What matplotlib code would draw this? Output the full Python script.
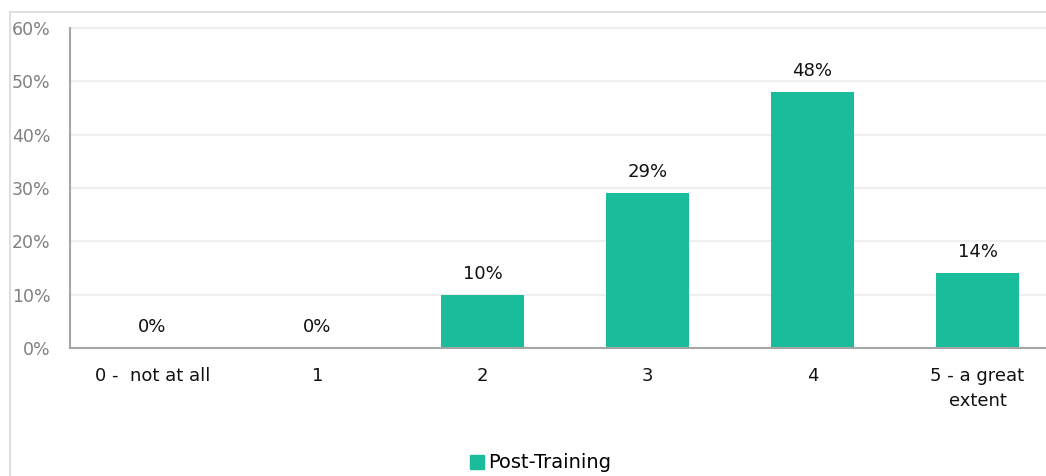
import matplotlib
matplotlib.use("Agg")
import matplotlib.pyplot as plt
from matplotlib.lines import Line2D

categories = ["0 -  not at all", "1", "2", "3", "4", "5 - a great\nextent"]
post_training = [0, 0, 10, 29, 48, 14]
y_ticks = [0, 10, 20, 30, 40, 50, 60]
series_name = "Post-Training"

bar_color = "#1ABC9C"
W, H = 1046, 476

plt.rcParams["font.family"] = ["DejaVu Sans"]

fig = plt.figure(figsize=(W / 100, H / 100), dpi=100)

# outer chart frame
fig.add_artist(Line2D([10 / W, 1.0], [1 - 12 / H, 1 - 12 / H], color="#d9d9d9", lw=1.2,
                      transform=fig.transFigure))
fig.add_artist(Line2D([10 / W, 10 / W], [0, 1 - 12 / H], color="#d9d9d9", lw=1.2,
                      transform=fig.transFigure))

left, right = 70 / W, 1060 / W
top, bottom = 1 - 28 / H, 1 - 348 / H
ax = fig.add_axes([left, bottom, right - left, top - bottom])

x = list(range(len(categories)))
bars = ax.bar(x, post_training, width=0.5, color=bar_color, label=series_name, zorder=3)

ax.set_xlim(-0.5, len(categories) - 0.5)
ax.set_ylim(0, 60)
ax.set_yticks(y_ticks)
ax.set_yticklabels([f"{v}%" for v in y_ticks], color="#808080", fontsize=12.5)
ax.set_xticks(x)
ax.set_xticklabels(categories, fontsize=13, color="#111111", linespacing=1.45)
ax.tick_params(axis="y", length=0, pad=14)
ax.tick_params(axis="x", length=0, pad=14)

ax.set_axisbelow(True)
for v in y_ticks[1:]:
    ax.axhline(v, color="#efefef", lw=1.5, zorder=0, clip_on=False)
for s in ["top", "right"]:
    ax.spines[s].set_visible(False)
for s in ["left", "bottom"]:
    ax.spines[s].set_color("#a6a6a6")
    ax.spines[s].set_linewidth(1.5)
    ax.spines[s].set_zorder(4)

for xi, v in zip(x, post_training):
    ax.annotate(f"{v}%", (xi, v), xytext=(0, 12), textcoords="offset pixels",
                ha="center", va="bottom", fontsize=13, color="#111111")

handle = Line2D([], [], marker="s", ls="none", color=bar_color, markersize=10)
fig.legend([handle], [series_name], loc="center", bbox_to_anchor=(538 / W, 1 - 463 / H),
           frameon=False, fontsize=14, handletextpad=0.0, handlelength=1.2,
           borderaxespad=0)

fig.savefig("out.png", dpi=100)
